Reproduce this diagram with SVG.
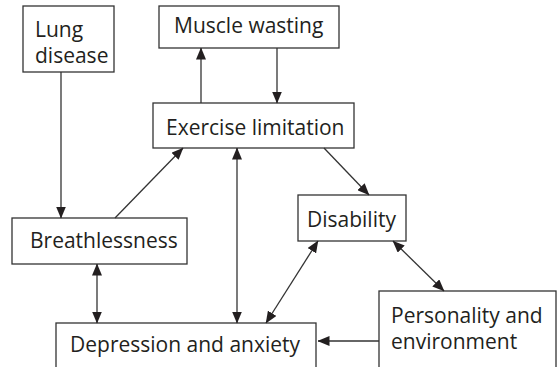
<svg xmlns="http://www.w3.org/2000/svg" width="557" height="367" viewBox="0 0 557 367">
<defs>
<style>
.box{fill:#fff;stroke:#333;stroke-width:1.3}
.t{font-family:"Open Sans","Noto Sans",sans-serif;font-size:21px;fill:#231f20}
.c{stroke:#333;stroke-width:1.3;fill:none}
</style>
<marker id="ah" markerUnits="userSpaceOnUse" markerWidth="12" markerHeight="10" refX="11.5" refY="5" orient="auto-start-reverse" viewBox="0 0 12 10">
<path d="M0,0 L12,5 L0,10 Z" fill="#231f20"/>
</marker>
</defs>
<rect width="557" height="367" fill="#fff"/>
<g id="lung"><rect class="box" x="23" y="6" width="91" height="66"/><text class="t" x="35" y="37">Lung</text><text class="t" x="35" y="63">disease</text></g>
<g id="muscle"><rect class="box" x="159" y="6" width="180" height="42"/><text class="t" x="174" y="33">Muscle wasting</text></g>
<g id="exercise"><rect class="box" x="153" y="103" width="201" height="45"/><text class="t" x="166" y="135">Exercise limitation</text></g>
<g id="breath"><rect class="box" x="12" y="218" width="175" height="46"/><text class="t" x="30" y="248">Breathlessness</text></g>
<g id="disability"><rect class="box" x="298" y="195" width="108" height="46"/><text class="t" x="307" y="227">Disability</text></g>
<g id="depression"><rect class="box" x="56" y="323" width="260" height="60"/><text class="t" x="70" y="352">Depression and anxiety</text></g>
<g id="personality"><rect class="box" x="379" y="291" width="177" height="90"/><text class="t" x="391" y="322.5">Personality and</text><text class="t" x="391" y="348.5">environment</text></g>
<g id="connectors">
<line class="c" x1="201" y1="103" x2="201" y2="48" marker-end="url(#ah)"/>
<line class="c" x1="277" y1="48" x2="277" y2="103" marker-end="url(#ah)"/>
<line class="c" x1="61" y1="72" x2="61" y2="218" marker-end="url(#ah)"/>
<line class="c" x1="115" y1="218" x2="183" y2="148" marker-end="url(#ah)"/>
<line class="c" x1="237" y1="148" x2="237" y2="323" marker-start="url(#ah)" marker-end="url(#ah)"/>
<line class="c" x1="97" y1="264" x2="97" y2="323" marker-start="url(#ah)" marker-end="url(#ah)"/>
<line class="c" x1="324" y1="148" x2="369" y2="195" marker-end="url(#ah)"/>
<line class="c" x1="318" y1="241" x2="266" y2="323" marker-start="url(#ah)" marker-end="url(#ah)"/>
<line class="c" x1="393" y1="241" x2="444" y2="291" marker-start="url(#ah)" marker-end="url(#ah)"/>
<line class="c" x1="379" y1="341" x2="318" y2="341" marker-end="url(#ah)"/>
</g>
</svg>
